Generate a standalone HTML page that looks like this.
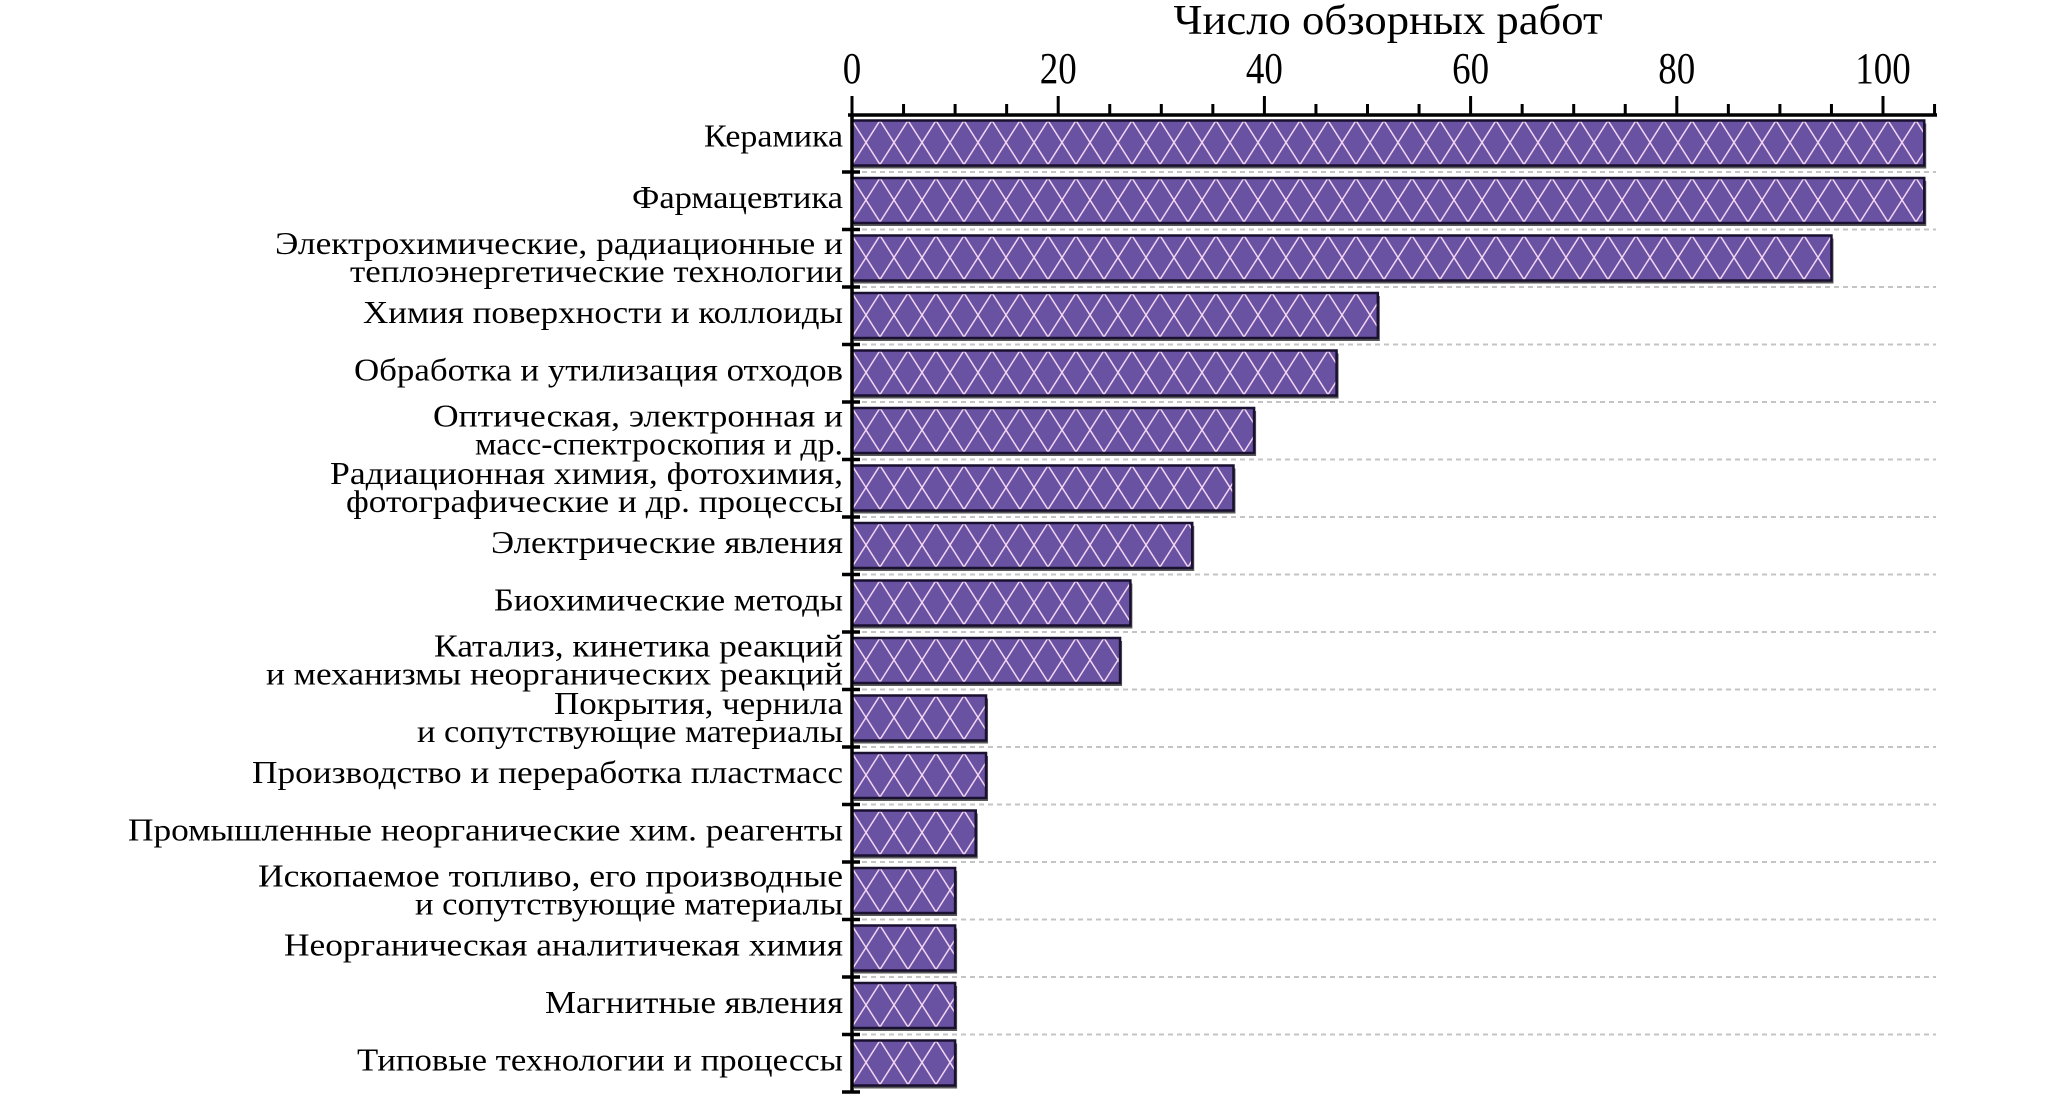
<!DOCTYPE html>
<html><head><meta charset="utf-8"><style>
html,body{margin:0;padding:0;background:#fff;}
svg{display:block;font-family:"Liberation Serif","DejaVu Serif",serif;}
</style></head><body>
<svg id="chart" width="2067" height="1099" viewBox="0 0 2067 1099" xmlns="http://www.w3.org/2000/svg">
<defs id="defs"></defs>
<g id="grid"></g>
<g id="bars"></g>
<g id="axes"></g>
<g id="labels"></g>
<text x="1388" y="34" font-size="42" text-anchor="middle" textLength="429" lengthAdjust="spacingAndGlyphs">Число обзорных работ</text>
</svg>
<script>
const categories = [
 ["Керамика"],
 ["Фармацевтика"],
 ["Электрохимические, радиационные и","теплоэнергетические технологии"],
 ["Химия поверхности и коллоиды"],
 ["Обработка и утилизация отходов"],
 ["Оптическая, электронная и","масс-спектроскопия и др."],
 ["Радиационная химия, фотохимия,","фотографические и др. процессы"],
 ["Электрические явления"],
 ["Биохимические методы"],
 ["Катализ, кинетика реакций","и механизмы неорганических реакций"],
 ["Покрытия, чернила","и сопутствующие материалы"],
 ["Производство и переработка пластмасс"],
 ["Промышленные неорганические хим. реагенты"],
 ["Ископаемое топливо, его производные","и сопутствующие материалы"],
 ["Неорганическая аналитичекая химия"],
 ["Магнитные явления"],
 ["Типовые технологии и процессы"]
];
const values = [104,104,95,51,47,39,37,33,27,26,13,13,12,10,10,10,10];
const majorTicks = [0,20,40,60,80,100];
const minorTicks = [5,10,15,25,30,35,45,50,55,65,70,75,85,90,95,105];
const labelWidths = [
 [145],[217],[574,499],[486],[495],[416,374],[519,503],[358],[355],[415,583],[295,432],[597],[721],[591,434],[565],[304],[492]
];

const NS = "http://www.w3.org/2000/svg";
const X0 = 852, PX = 10.31, TOP = 114.5, PITCH = 57.5, AXY = 115, LABX = 843;
const xs = v => X0 + v*PX;
const rowTop = i => TOP + i*PITCH;
function mk(tag, attrs, parent){ const e=document.createElementNS(NS,tag); for(const k in attrs) e.setAttribute(k,attrs[k]); parent.appendChild(e); return e; }
const defs=document.getElementById('defs'), grid=document.getElementById('grid'), bars=document.getElementById('bars'), axes=document.getElementById('axes'), labels=document.getElementById('labels');
const n = categories.length;

for(let i=1;i<n;i++){
  const y=rowTop(i);
  const g=mk('line',{x1:862,x2:1936,y1:y,y2:y,stroke:'#c4c4c4','stroke-width':2,'stroke-dasharray':'5 4'},grid);
  
  
}

values.forEach((v,i)=>{
  const bt=rowTop(i)+6, bh=45, bw=xs(v)-X0;
  const p=mk('pattern',{id:'p'+i,patternUnits:'userSpaceOnUse',x:X0,y:bt,width:28,height:44},defs);
  mk('rect',{width:28,height:44,fill:'#6a52a3'},p);
  mk('line',{x1:0,y1:0,x2:28,y2:44,stroke:'#f3d6f3','stroke-width':1.5},p);
  mk('line',{x1:28,y1:0,x2:0,y2:44,stroke:'#f3d6f3','stroke-width':1.5},p);
  const sh=mk('rect',{x:X0+2,y:bt+3,width:bw,height:bh,fill:'#5a5a5a'},bars);
  
  
  const r=mk('rect',{x:X0,y:bt,width:bw,height:bh,fill:'url(#p'+i+')',stroke:'#1a1030','stroke-width':2.5},bars);
  
  
});

const ax=mk('line',{x1:848,x2:1937,y1:AXY,y2:AXY,stroke:'#000','stroke-width':3.5},axes);


majorTicks.forEach(t=>{
  const l=mk('line',{x1:xs(t),x2:xs(t),y1:96,y2:AXY,stroke:'#000','stroke-width':3},axes);
  
  
  const s=String(t);
  const tx=mk('text',{x:xs(t),y:83,'font-size':44,'text-anchor':'middle',textLength:s.length*18.5,lengthAdjust:'spacingAndGlyphs'},axes);
  tx.textContent=s;
  
  
});
minorTicks.forEach(t=>{
  const l=mk('line',{x1:xs(t),x2:xs(t),y1:104,y2:AXY,stroke:'#000','stroke-width':3},axes);
  
  
});
const ay=mk('line',{x1:X0,x2:X0,y1:AXY,y2:rowTop(n),stroke:'#000','stroke-width':3.5},axes);


for(let i=1;i<=n;i++){
  const y=rowTop(i);
  const l=mk('line',{x1:842,x2:860,y1:y,y2:y,stroke:'#000','stroke-width':3.5},axes);
  
  
}

categories.forEach((lines,i)=>{
  const top=rowTop(i);
  const ys = lines.length===1 ? [top+(i===0?32:36)] : [top+24.5, top+52.5];
  lines.forEach((s,j)=>{
    const t=mk('text',{x:LABX,y:ys[j],'font-size':32,'text-anchor':'end',textLength:labelWidths[i][j]-6,lengthAdjust:'spacingAndGlyphs'},labels);
    t.textContent=s;
    
    
  });
});
</script>
</body></html>
